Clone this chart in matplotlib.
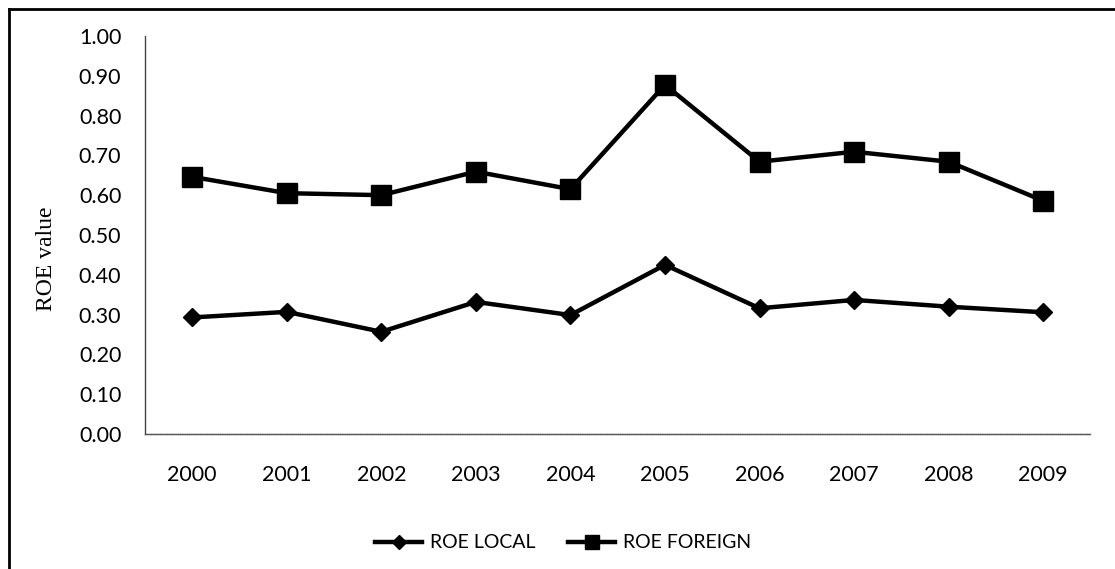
import matplotlib.pyplot as plt
from matplotlib.lines import Line2D

# ROE of local and foreign banks, 2000-2009
years = ['2000', '2001', '2002', '2003', '2004', '2005', '2006', '2007', '2008', '2009']
roe_local = [0.293, 0.307, 0.257, 0.332, 0.299, 0.425, 0.316, 0.337, 0.320, 0.306]
roe_foreign = [0.646, 0.605, 0.600, 0.659, 0.615, 0.877, 0.684, 0.709, 0.684, 0.586]
y_ticks = [0.0, 0.1, 0.2, 0.3, 0.4, 0.5, 0.6, 0.7, 0.8, 0.9, 1.0]

TICK_FONT = 'Lato'


def draw_chart():
    fig = plt.figure(figsize=(11.15, 5.69), dpi=100)
    ax = fig.add_axes([0.130, 0.237, 0.848, 0.700])

    x = range(len(years))
    ax.plot(x, roe_local, color='black', linewidth=3.2, marker='D', markersize=9,
            label='ROE LOCAL')
    ax.plot(x, roe_foreign, color='black', linewidth=3.2, marker='s', markersize=14,
            label='ROE FOREIGN')

    ax.set_xlim(-0.5, len(years) - 0.5)
    ax.set_ylim(0, 1.0)
    ax.set_xticks(list(x))
    ax.set_xticklabels(years, fontfamily=TICK_FONT, fontsize=15.5)
    ax.set_yticks(y_ticks)
    ax.set_yticklabels(['%.2f' % v for v in y_ticks], fontfamily=TICK_FONT, fontsize=15.5)
    ax.tick_params(axis='both', length=0)
    ax.tick_params(axis='x', pad=22)
    ax.tick_params(axis='y', pad=17)

    for side in ['top', 'right']:
        ax.spines[side].set_visible(False)
    ax.spines['left'].set_color('#444444')
    ax.spines['left'].set_linewidth(1.0)
    ax.spines['bottom'].set_color('#555555')
    ax.spines['bottom'].set_linewidth(1.0)
    ax.spines['bottom'].set_linestyle((0, (1, 0.6)))

    ax.set_ylabel('ROE value', fontfamily='Liberation Serif', fontsize=17)
    ax.yaxis.set_label_coords(-0.093, 0.44)

    fig.legend(loc='center', bbox_to_anchor=(0.505, 0.046), ncol=2, frameon=False,
               prop={'family': TICK_FONT, 'size': 14}, handlelength=2.4,
               columnspacing=1.7, handletextpad=0.4, markerscale=0.75)

    # outer frame, left and top edges only
    fig.add_artist(Line2D([0.008, 0.008], [0.0, 0.984], transform=fig.transFigure,
                          color='black', linewidth=2))
    fig.add_artist(Line2D([0.008, 1.0], [0.984, 0.984], transform=fig.transFigure,
                          color='black', linewidth=2))

    fig.savefig('out.png', dpi=100)


def main():
    draw_chart()


if __name__ == '__main__':
    main()
